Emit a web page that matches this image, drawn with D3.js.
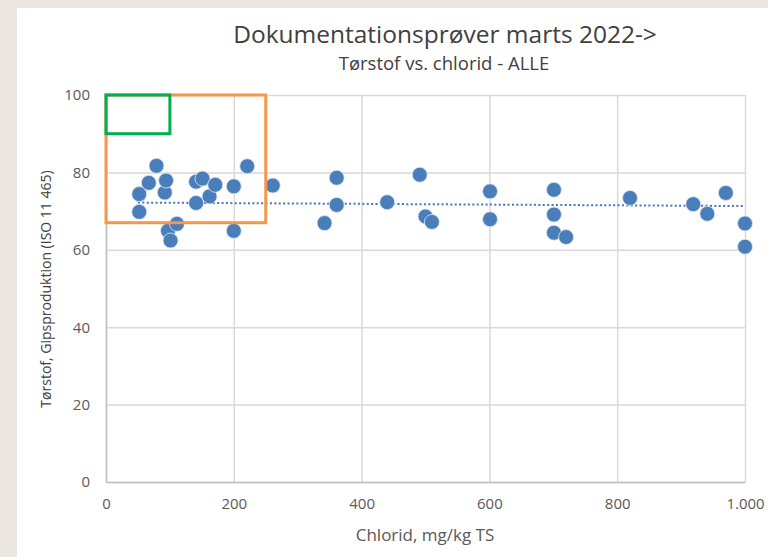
<!DOCTYPE html>
<html>
<head>
<meta charset="utf-8">
<script src="https://cdn.jsdelivr.net/npm/d3@7"></script>
<style>
  body { margin: 0; background: #ebe7e0; }
  svg { display: block; }
  text { font-family: "Open Sans", sans-serif; }
</style>
</head>
<body>
<svg id="chart" width="768" height="557"></svg>
<script>
// chlorid (mg/kg TS) and tørstof (%) per sample
const chlorid = [
  52, 52, 67, 79, 92, 94, 97, 101, 111,
  141, 141, 151, 162, 171, 200, 200, 221, 261,
  342, 361, 361, 440, 491, 500, 510, 601, 601,
  701, 701, 701, 720, 820, 919, 941, 970, 1000, 1000
];
const toerstof = [
  74.4, 69.8, 77.3, 81.7, 74.8, 77.9, 64.9, 62.4, 66.7,
  77.6, 72.1, 78.4, 73.8, 76.8, 76.4, 64.9, 81.6, 76.6,
  66.9, 78.6, 71.6, 72.3, 79.4, 68.6, 67.2, 75.1, 67.9,
  75.5, 69.1, 64.4, 63.3, 73.4, 71.8, 69.3, 74.7, 66.8, 60.8
];
// linear trendline as shown in the chart (start / end)
const trendX = [50, 1000];
const trendY = [72.2, 71.3];
const xTicks = [0, 200, 400, 600, 800, 1000];
const yTicks = [0, 20, 40, 60, 80, 100];
// highlighted areas: [x0, x1, y0, y1]
const orangeBox = [0, 250, 67, 100];
const greenBox = [0, 100, 90, 100];

const points = chlorid.map((c, i) => ({ x: c, y: toerstof[i] }));

const svg = d3.select('#chart');
const margin = { left: 106, right: 23, top: 95, bottom: 75 };
const width = 768 - margin.left - margin.right;
const height = 557 - margin.top - margin.bottom;

// white chart panel
svg.append('rect')
  .attr('x', 17).attr('y', 8)
  .attr('width', 768 - 17).attr('height', 557 - 8)
  .attr('fill', '#fff');

svg.append('text')
  .attr('x', 445).attr('y', 43)
  .attr('text-anchor', 'middle')
  .attr('font-size', 24.5)
  .attr('fill', '#404040')
  .text('Dokumentationsprøver marts 2022->');
svg.append('text')
  .attr('x', 444).attr('y', 70)
  .attr('text-anchor', 'middle')
  .attr('font-size', 18.5)
  .attr('fill', '#404040')
  .text('Tørstof vs. chlorid - ALLE');

const g = svg.append('g').attr('transform', 'translate(' + margin.left + ',' + margin.top + ')');

const x = d3.scaleLinear().domain([0, 1000]).range([0, width]);
const y = d3.scaleLinear().domain([0, 100]).range([height, 0]);

// gridlines
g.append('g')
  .attr('transform', 'translate(0,' + height + ')')
  .call(d3.axisBottom(x).tickValues(xTicks).tickSize(-height).tickFormat(''))
  .call(ax => ax.select('.domain').remove())
  .call(ax => ax.selectAll('line').attr('stroke', '#d9d9d9').attr('stroke-width', 1.5));
g.append('g')
  .call(d3.axisLeft(y).tickValues(yTicks).tickSize(-width).tickFormat(''))
  .call(ax => ax.select('.domain').remove())
  .call(ax => ax.selectAll('line').attr('stroke', '#d9d9d9').attr('stroke-width', 1.5));

// axes
const fmt = d => d >= 1000 ? d3.format(',')(d).replace(/,/g, '.') : d;
g.append('g')
  .attr('transform', 'translate(0,' + height + ')')
  .call(d3.axisBottom(x).tickValues(xTicks).tickSize(0).tickPadding(16).tickFormat(fmt))
  .call(ax => ax.select('.domain').attr('stroke', '#bfbfbf').attr('stroke-width', 1.5))
  .call(ax => ax.selectAll('text').attr('font-size', 15).attr('fill', '#595959').attr('font-family', '"Open Sans", sans-serif'));
g.append('g')
  .call(d3.axisLeft(y).tickValues(yTicks).tickSize(0).tickPadding(16))
  .call(ax => ax.select('.domain').attr('stroke', '#bfbfbf').attr('stroke-width', 1.5))
  .call(ax => ax.selectAll('text').attr('font-size', 15).attr('fill', '#595959').attr('font-family', '"Open Sans", sans-serif'));

// axis titles
svg.append('text')
  .attr('x', 425).attr('y', 541)
  .attr('text-anchor', 'middle')
  .attr('font-size', 17)
  .attr('fill', '#595959')
  .text('Chlorid, mg/kg TS');
svg.append('text')
  .attr('transform', 'translate(51,289) rotate(-90)')
  .attr('text-anchor', 'middle')
  .attr('font-size', 14)
  .attr('fill', '#404040')
  .text('Tørstof, Gipsproduktion (ISO 11 465)');

// trendline
g.append('line')
  .attr('x1', x(trendX[0])).attr('y1', y(trendY[0]))
  .attr('x2', x(trendX[1])).attr('y2', y(trendY[1]))
  .attr('stroke', '#4472c4')
  .attr('stroke-width', 2)
  .attr('stroke-dasharray', '2,2.4');

// points
g.selectAll('.dot')
  .data(points)
  .enter()
  .append('circle')
  .attr('class', 'dot')
  .attr('cx', d => x(d.x))
  .attr('cy', d => y(d.y))
  .attr('r', 7.5)
  .attr('fill', '#4a7ebb')
  .attr('stroke', '#dfe8f4')
  .attr('stroke-width', 0.8);

// highlight boxes
[[orangeBox, '#f79646'], [greenBox, '#00b050']].forEach(([b, c]) => {
  g.append('rect')
    .attr('x', x(b[0])).attr('y', y(b[3]))
    .attr('width', x(b[1]) - x(b[0]))
    .attr('height', y(b[2]) - y(b[3]))
    .attr('fill', 'none')
    .attr('stroke', c)
    .attr('stroke-width', 3);
});
</script>
</body>
</html>
